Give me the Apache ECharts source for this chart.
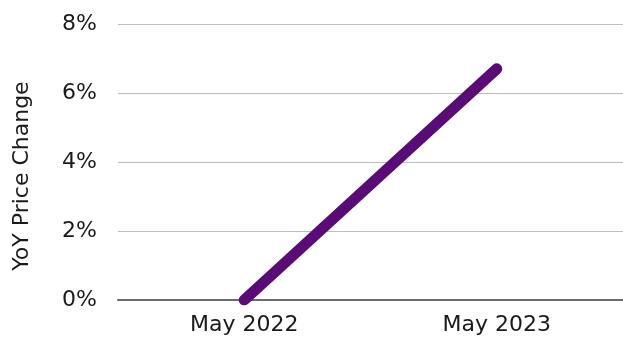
<!DOCTYPE html>
<html>
<head>
<meta charset="utf-8">
<script src="https://cdn.jsdelivr.net/npm/echarts@6/dist/echarts.min.js"></script>
<style>html,body{margin:0;padding:0;background:#fff}#c{width:623px;height:339px}</style>
</head>
<body>
<div id="c"></div>
<script>
const categories = ["May 2022", "May 2023"];
const yoyValues = [0, 6.7];
const yTicks = [0, 2, 4, 6, 8];

const chart = echarts.init(document.getElementById('c'), null, {renderer: 'canvas'});
const font = '"DejaVu Sans", sans-serif';
chart.setOption({
  animation: false,
  grid: {left: 118, right: 0, top: 24, bottom: 39, containLabel: false},
  xAxis: {
    type: 'category',
    data: categories,
    boundaryGap: true,
    axisLine: {show: true, lineStyle: {color: '#6b6b6b', width: 2}},
    axisTick: {show: false},
    axisLabel: {color: '#1a1a1a', fontSize: 22, fontFamily: font, margin: 14}
  },
  yAxis: {
    type: 'value',
    min: yTicks[0],
    max: yTicks[yTicks.length - 1],
    interval: 2,
    name: 'YoY Price Change',
    nameLocation: 'middle',
    nameGap: 85,
    nameTextStyle: {color: '#1a1a1a', fontSize: 22, fontFamily: font, padding: [0, 0, 0, -28]},
    axisLine: {show: false},
    axisTick: {show: false},
    splitLine: {lineStyle: {color: '#bdbdbd', width: 1}},
    axisLabel: {color: '#1a1a1a', fontSize: 22, fontFamily: font, margin: 21, formatter: v => v + '%'}
  },
  series: [{
    type: 'line',
    data: yoyValues,
    symbol: 'none',
    lineStyle: {color: '#590b76', width: 11, cap: 'round'},
    z: 5
  }]
});
</script>
</body>
</html>
